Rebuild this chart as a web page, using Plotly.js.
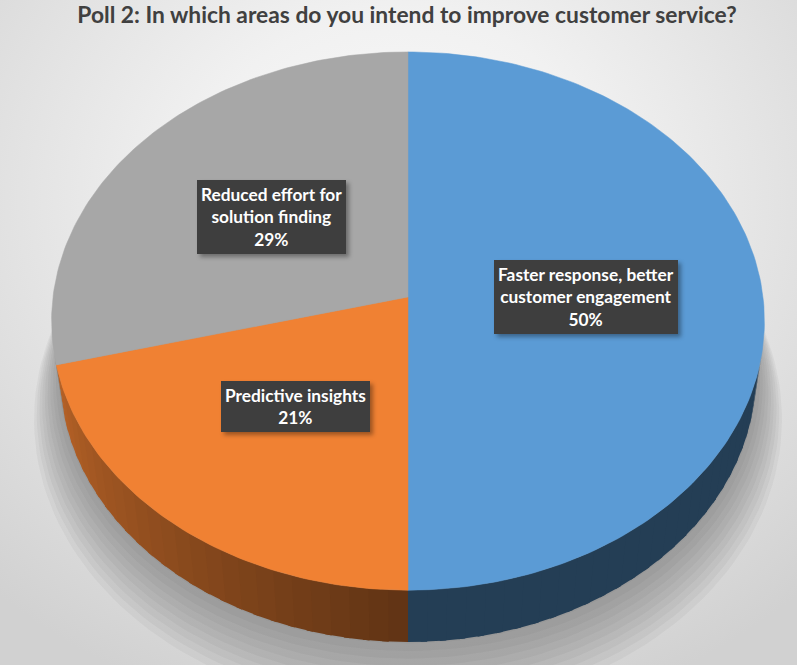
<!DOCTYPE html>
<html>
<head>
<meta charset="utf-8">
<script src="https://cdn.plot.ly/plotly-3.0.1.min.js"></script>
<style>
  html, body { margin: 0; padding: 0; }
  body {
    width: 797px; height: 665px; overflow: hidden;
    background: radial-gradient(ellipse 75% 80% at 50% 30%, #fbfbfb 0%, #f1f1f1 35%, #d1d1d1 100%);
  }
  #chart { width: 797px; height: 665px; }
  .annotation-text-g rect.bg { filter: drop-shadow(3px 3px 2px rgba(0,0,0,0.35)); }
</style>
</head>
<body>
<div id="chart"></div>
<script>
// ---- data ----
const categories = ['Faster response, better customer engagement', 'Predictive insights', 'Reduced effort for solution finding'];
const labelLines = ['Faster response, better<br>customer engagement', 'Predictive insights', 'Reduced effort for<br>solution finding'];
const values = [50, 21, 29];
const percentLabels = ['50%', '21%', '29%'];
const topColors = ['#5b9bd5', '#f08133', '#a7a7a7'];
const chartTitle = 'Poll 2: In which areas do you intend to improve customer service?';

// ---- 3D perspective projection (style constants) ----
const CX = 408, CY = 297, F = 2620, R = 0.1355, SA = 0.752, CA = Math.sqrt(1 - SA * SA), H = 0.0322;
function proj(phiDeg, r, y) {
  const p = phiDeg * Math.PI / 180;
  const x = r * R * Math.sin(p);
  const z = -r * R * Math.cos(p);
  const depth = 1 - y * SA - z * CA;
  return [CX + F * x / depth, CY - F * (y * CA - z * SA) / depth];
}
function hexToRgb(h) { return [parseInt(h.slice(1,3),16), parseInt(h.slice(3,5),16), parseInt(h.slice(5,7),16)]; }
function shade(hex, f) { const c = hexToRgb(hex).map(v => Math.round(v * f)); return 'rgb(' + c.join(',') + ')'; }

const total = values.reduce((a, b) => a + b, 0);
const starts = [], ends = [];
let acc = 0;
values.forEach(v => { starts.push(acc / total * 360); acc += v; ends.push(acc / total * 360); });

const traces = [];

// floor shadow
for (let k = 0; k < 10; k++) {
  const xs = [], ys = [];
  for (let a = 0; a <= 360; a += 2) { const q = proj(a, 1.004 + 0.010 * k, -H - 0.0028 * k); xs.push(q[0]); ys.push(q[1]); }
  traces.push({ type: 'scatter', mode: 'lines', x: xs, y: ys, fill: 'toself', fillcolor: 'rgba(80,80,80,0.055)', line: { width: 0 }, hoverinfo: 'skip', showlegend: false });
}

// side walls (strips overlap so no seams show)
const visLo = Math.acos(-R / CA) * 180 / Math.PI;   // silhouette angles
const visHi = 360 - visLo;
values.forEach((v, i) => {
  const a1 = Math.max(starts[i], visLo), a2 = Math.min(ends[i], visHi);
  if (a2 <= a1) return;
  const n = Math.max(1, Math.ceil((a2 - a1) / 3));
  for (let s = 0; s < n; s++) {
    const b1 = a1 + (a2 - a1) * s / n;
    const b2 = Math.min(a2, a1 + (a2 - a1) * (s + 1) / n + 1.0);
    const mid = a1 + (a2 - a1) * (s + 0.5) / n;
    const f = 0.40 + 0.37 * Math.max(0, (mid - 180) / (visHi - 180));
    const col = shade(topColors[i], f);
    const xs = [], ys = [];
    const steps = 6;
    for (let t = 0; t <= steps; t++) { const q = proj(b1 + (b2 - b1) * t / steps, 1, 0); xs.push(q[0]); ys.push(q[1]); }
    for (let t = steps; t >= 0; t--) { const q = proj(b1 + (b2 - b1) * t / steps, 1, -H); xs.push(q[0]); ys.push(q[1]); }
    xs.push(xs[0]); ys.push(ys[0]);
    traces.push({ type: 'scatter', mode: 'lines', x: xs, y: ys, fill: 'toself', fillcolor: col, line: { width: 0 }, hoverinfo: 'skip', showlegend: false });
  }
});

// top faces
values.forEach((v, i) => {
  const c = proj(0, 0, 0);
  const xs = [c[0]], ys = [c[1]];
  for (let a = starts[i]; a < ends[i]; a += 1) { const q = proj(a, 1, 0); xs.push(q[0]); ys.push(q[1]); }
  const qe = proj(ends[i], 1, 0); xs.push(qe[0]); ys.push(qe[1]);
  xs.push(c[0]); ys.push(c[1]);
  traces.push({ type: 'scatter', mode: 'lines', x: xs, y: ys, fill: 'toself', fillcolor: topColors[i], line: { width: 0.5, color: topColors[i] },
    name: categories[i], text: categories[i] + ': ' + percentLabels[i], hoveron: 'fills', hoverinfo: 'text', showlegend: false });
});

// labels
const annotations = [];
values.forEach((v, i) => {
  const mid = (starts[i] + ends[i]) / 2;
  const p = proj(mid, 0.5, 0);
  annotations.push({ x: p[0], y: p[1], xref: 'x', yref: 'y', text: labelLines[i] + '<br>' + percentLabels[i],
    showarrow: false, borderpad: 4, borderwidth: 0, bgcolor: '#3e3e3e',
    xanchor: 'center', yanchor: 'middle', align: 'center',
    font: { family: 'Lato, sans-serif', size: 17.3, color: '#ffffff', weight: 'bold' } });
});

const layout = {
  width: 797, height: 665,
  margin: { l: 0, r: 0, t: 0, b: 0 },
  paper_bgcolor: 'rgba(0,0,0,0)', plot_bgcolor: 'rgba(0,0,0,0)',
  title: { text: '<b>' + chartTitle + '</b>', x: 407 / 797, xanchor: 'center', y: 1 - 15 / 665, yanchor: 'middle', yref: 'container',
    font: { family: 'Lato, sans-serif', size: 22.8, color: '#404040' } },
  xaxis: { range: [0, 797], visible: false, fixedrange: true },
  yaxis: { range: [665, 0], visible: false, fixedrange: true },
  annotations: annotations,
  showlegend: false
};

Plotly.newPlot('chart', traces, layout, { displayModeBar: false, responsive: false });
</script>
</body>
</html>
